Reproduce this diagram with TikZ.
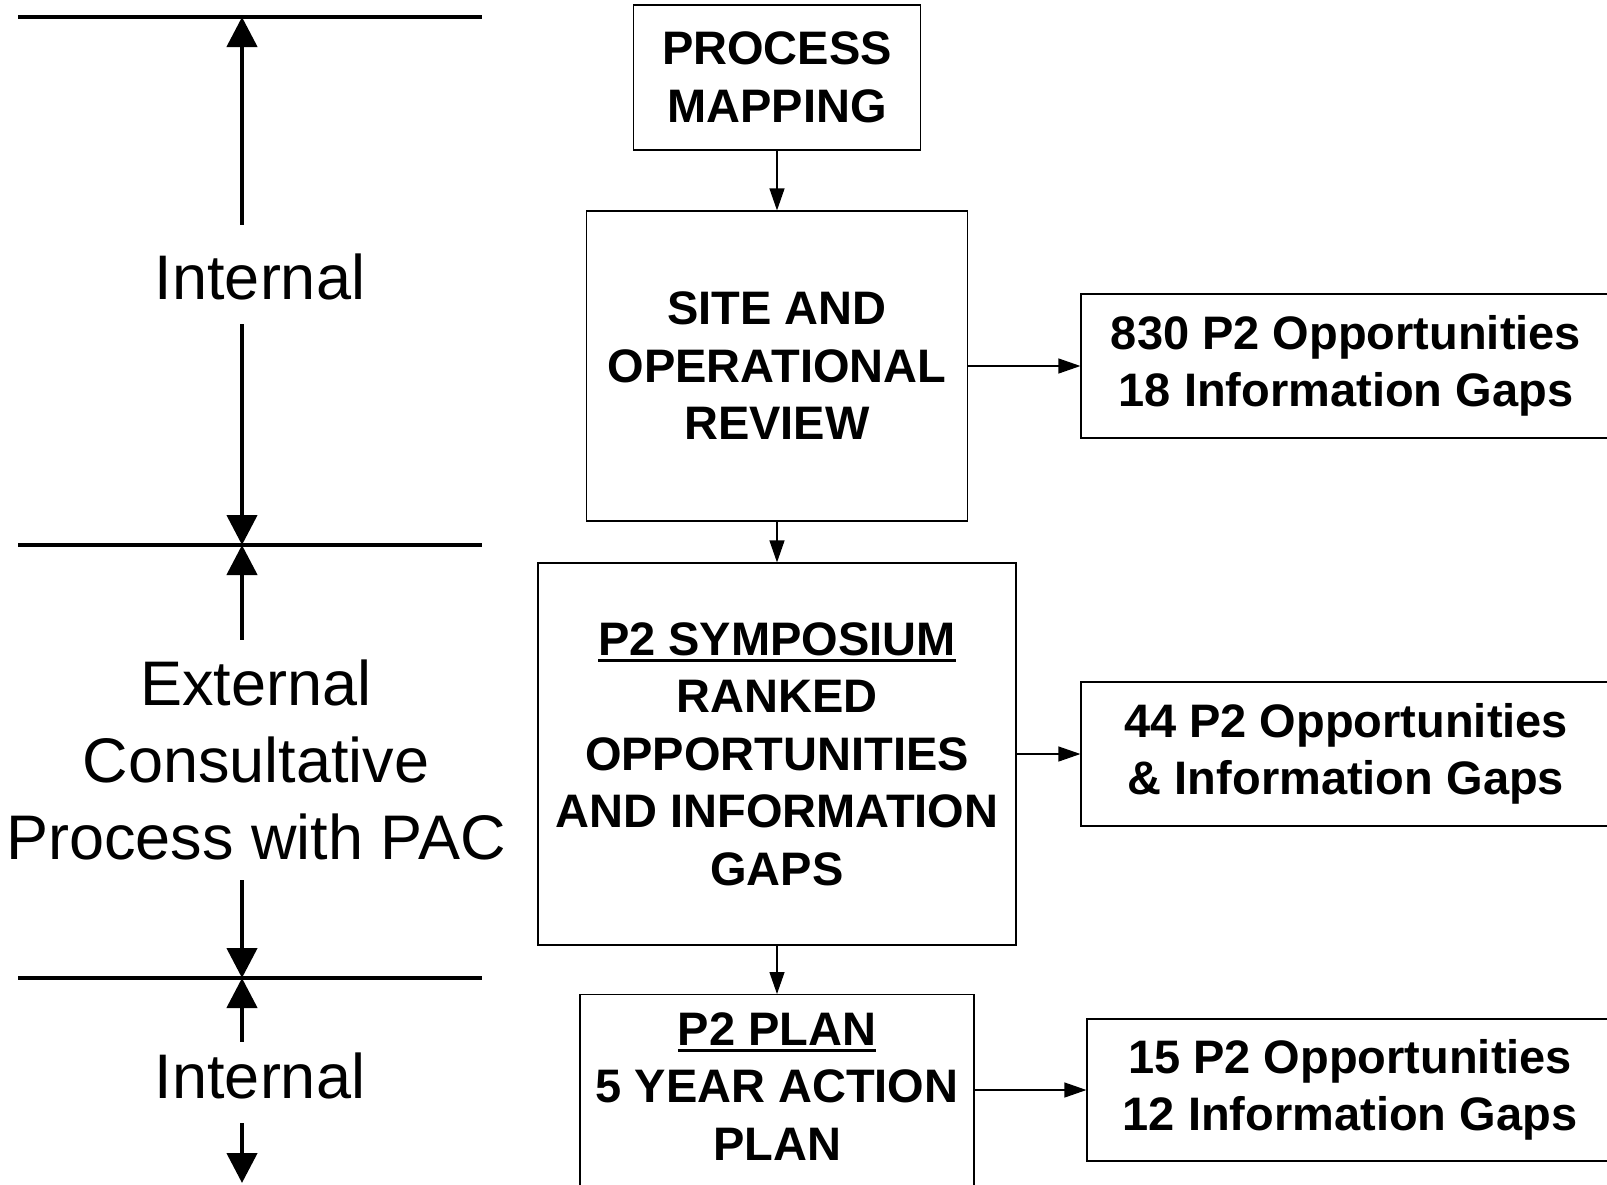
\documentclass[tikz,border=0pt]{standalone}
\usepackage{fontspec}
\setmainfont{Liberation Sans}
\usetikzlibrary{arrows.meta,positioning}
\newcommand{\ulhead}[1]{\setbox0\hbox{#1}\rlap{\rule[-7pt]{\wd0}{3pt}}\box0}

\begin{document}
\begin{tikzpicture}[x=1pt,y=-1pt]

      \tikzset{stepbox/.style={draw, line width=1.2pt, inner sep=0pt, align=center, font=\bfseries\fontsize{47pt}{57.5pt}\selectfont},
               outbox/.style={stepbox, minimum width=530pt, minimum height=144pt},
               sidelabel/.style={inner sep=0pt, font=\fontsize{63pt}{77pt}\selectfont},
               flow/.style={-{Triangle[length=22pt,width=15pt]}, line width=1.2pt},
               span/.style={-{Triangle[length=30pt,width=30pt]}, line width=4.5pt},
               divider/.style={line width=3.5pt}}
      \useasboundingbox (0,0) rectangle (1607,1184);
%% Dividers
      	\draw[divider] (18,17) -- (482,17);
      	\draw[divider] (18,545) -- (482,545);
      	\draw[divider] (18,978) -- (482,978);
      	\coordinate (d1) at (242,17);
      	\coordinate (d2) at (242,545);
      	\coordinate (d3) at (242,978);
      	\coordinate (d4) at (242,1183);
%% Steps
      	\node[stepbox, minimum width=287pt, minimum height=145pt] (pm) at (777,77.5) {PROCESS\\MAPPING};
      	\node[stepbox, minimum width=381pt, minimum height=310pt] (site) at (777,366) {SITE AND\\OPERATIONAL\\REVIEW};
      	\node[stepbox, minimum width=478pt, minimum height=382pt] (symp) at (777,754) {\ulhead{P2 SYMPOSIUM}\\RANKED\\OPPORTUNITIES\\AND INFORMATION\\GAPS};
      	\node[stepbox, minimum width=394pt, minimum height=240pt, anchor=north] (plan) at (777,994) {};
      	\node[stepbox, draw=none, inner ysep=18pt, anchor=north] (plantxt) at (plan.north) {\ulhead{P2 PLAN}\\5 YEAR ACTION\\PLAN};
%% Results
      	\node[outbox] (out1) at (1346,366) {830 P2 Opportunities\\18 Information Gaps};
      	\node[outbox] (out2) at (1346,754) {44 P2 Opportunities\\\& Information Gaps};
      	\node[outbox, minimum width=526pt, minimum height=142pt] (out3) at (1350,1090) {15 P2 Opportunities\\12 Information Gaps};
%Edges
		\path[flow] (pm) edge (site);
		\path[flow] (site) edge (symp);
		\path[flow] (symp) edge (plan);
		\path[flow] (site) edge (out1);
		\path[flow] (symp) edge (out2);
		\draw[flow] (plan.east |- out3) -- (out3);
%% Phases
      	\node[sidelabel, text height=74.5pt, text depth=24.5pt, anchor=base] (int1) at (260,299.5) {Internal};
      	\node[sidelabel, align=center, inner ysep=20pt] (ext) at (256,760) {External\\Consultative\\Process with PAC};
      	\node[sidelabel, text height=56.5pt, text depth=24.5pt, anchor=base] (int2) at (260,1098.5) {Internal};
		\draw[span] (int1.north -| d1) -- (d1);
		\draw[span] (int1.south -| d2) -- (d2);
		\draw[span] (ext.north -| d2) -- (d2);
		\draw[span] (ext.south -| d3) -- (d3);
		\draw[span] (int2.north -| d3) -- (d3);
		\draw[span] (int2.south -| d4) -- (d4);

	\end{tikzpicture}
\end{document}
